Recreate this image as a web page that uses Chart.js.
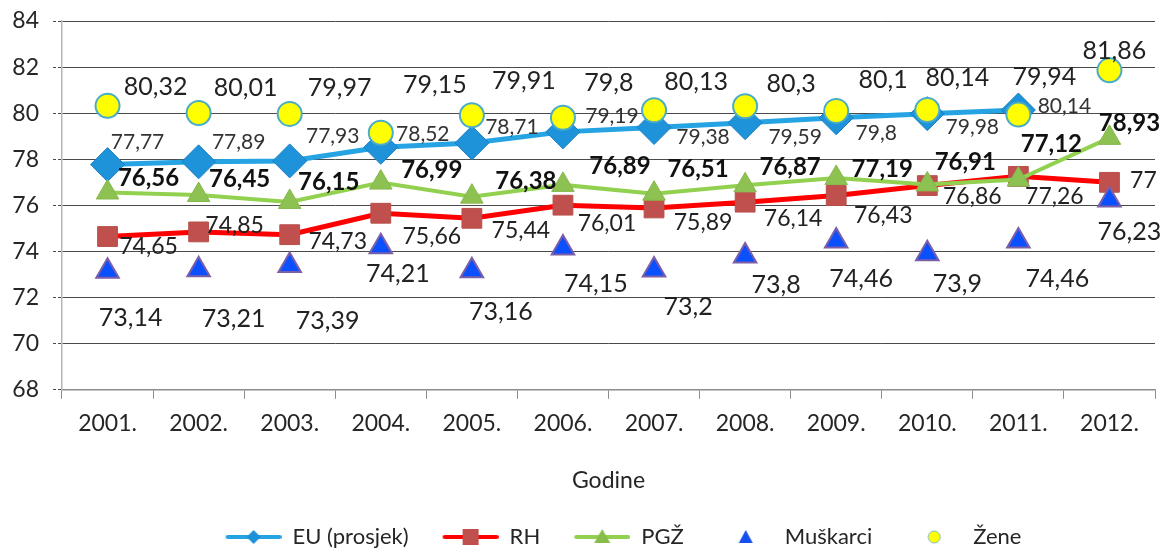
<!DOCTYPE html>
<html>
<head>
<meta charset="utf-8">
<script src="https://cdn.jsdelivr.net/npm/chart.js@4"></script>
<style>
  body { margin: 0; background: #fff; }
  #wrap { width: 1173px; height: 548px; }
</style>
</head>
<body>
<div id="wrap"><canvas id="c" width="1173" height="548"></canvas></div>
<script>
const years = ["2001.", "2002.", "2003.", "2004.", "2005.", "2006.", "2007.", "2008.", "2009.", "2010.", "2011.", "2012."];
const euValues = [77.77, 77.89, 77.93, 78.52, 78.71, 79.19, 79.38, 79.59, 79.8, 79.98, 80.14, null];
const rhValues = [74.65, 74.85, 74.73, 75.66, 75.44, 76.01, 75.89, 76.14, 76.43, 76.86, 77.26, 77];
const pgzValues = [76.56, 76.45, 76.15, 76.99, 76.38, 76.89, 76.51, 76.87, 77.19, 76.91, 77.12, 78.93];
const menValues = [73.14, 73.21, 73.39, 74.21, 73.16, 74.15, 73.2, 73.8, 74.46, 73.9, 74.46, 76.23];
const womenValues = [80.32, 80.01, 79.97, 79.15, 79.91, 79.8, 80.13, 80.3, 80.1, 80.14, 79.94, 81.86];
const yMin = 68, yMax = 84, yStep = 2;

// where each value label sits relative to its point (px)
const euLabelOffset = [[30,-22],[40,-20],[43,-25],[42,-13],[40,-16],[49,-16],[49,10],[50,15],[40,15],[45,14],[46,-4],null];
const rhLabelOffset = [[41,10],[36,-6],[48,7],[51,23],[49,12],[44,18],[49,15],[48,16],[47,20],[45,11],[36,20],[34,-2]];
const pgzLabelOffset = [[41,-14],[41,-16],[39,-20],[51,-12],[54,-15],[57,-19],[44,-24],[45,-18],[46,-9],[38,-22],[33,-35],[20,-15]];
const menLabelOffset = [[23,47],[35,49],[38,55],[17,27],[29,41],[33,36],[34,37],[31,29],[25,38],[30,30],[39,38],[20,32]];
const womenLabelOffset = [[48,-19],[47,-25],[50,-26],[54,-48],[52,-34],[46,-35],[42,-28],[46,-22],[47,-31],[30,-32],[26,-38],[5,-19]];

const FONT = "Lato, 'Noto Sans', sans-serif";

// legend pictures: blank lead-in on the left gives the gap between items
const ICON_W = 84;
const legendIcon = (lineColor, draw) => {
  const cv = document.createElement("canvas");
  cv.width = ICON_W;
  cv.height = 20;
  const ctx = cv.getContext("2d");
  if (lineColor) {
    ctx.strokeStyle = lineColor;
    ctx.lineWidth = 4;
    ctx.lineCap = "round";
    ctx.beginPath();
    ctx.moveTo(ICON_W - 54, 10);
    ctx.lineTo(ICON_W - 2, 10);
    ctx.stroke();
  }
  draw(ctx, ICON_W - 28);
  return cv;
};
const icons = [
  legendIcon("#25a3e3", (ctx, cx) => {
    ctx.fillStyle = "#1e90d8";
    ctx.beginPath();
    ctx.moveTo(cx, 3); ctx.lineTo(cx + 7, 10); ctx.lineTo(cx, 17); ctx.lineTo(cx - 7, 10);
    ctx.closePath(); ctx.fill();
  }),
  legendIcon("#ff0000", (ctx, cx) => {
    ctx.fillStyle = "#c0504d";
    ctx.fillRect(cx - 8, 2, 16, 16);
  }),
  legendIcon("#92d050", (ctx, cx) => {
    ctx.fillStyle = "#86bd4a";
    ctx.beginPath();
    ctx.moveTo(cx, 2); ctx.lineTo(cx + 8, 16); ctx.lineTo(cx - 8, 16);
    ctx.closePath(); ctx.fill();
  }),
  legendIcon(null, (ctx, cx) => {
    ctx.fillStyle = "#1450f0";
    ctx.beginPath();
    ctx.moveTo(cx, 3); ctx.lineTo(cx + 7, 16); ctx.lineTo(cx - 7, 16);
    ctx.closePath(); ctx.fill();
  }),
  legendIcon(null, (ctx, cx) => {
    ctx.fillStyle = "#ffff00";
    ctx.strokeStyle = "#7cb8c8";
    ctx.lineWidth = 1;
    ctx.beginPath();
    ctx.arc(cx, 10, 6, 0, Math.PI * 2);
    ctx.fill(); ctx.stroke();
  }),
];

const labelPlugin = {
  id: "valueLabels",
  afterDatasetsDraw: (chart) => {
    const ctx = chart.ctx;
    ctx.save();
    ctx.textAlign = "center";
    ctx.textBaseline = "middle";
    chart.data.datasets.forEach((ds, i) => {
      const meta = chart.getDatasetMeta(i);
      ctx.font = ds.labelFont;
      ctx.fillStyle = ds.labelColor;
      meta.data.forEach((pt, j) => {
        const v = ds.data[j];
        const off = ds.labelOffset[j];
        if (v == null || !off) return;
        ctx.fillText(String(v).replace(".", ","), pt.x + off[0], pt.y + off[1]);
      });
    });
    ctx.restore();
  },
};

// the legend in the original sits a little right of centre
const legendShift = {
  id: "legendShift",
  afterLayout: (chart) => {
    chart.legend.left += 30;
    chart.legend.right += 30;
  },
};

Chart.defaults.font.family = FONT;
Chart.defaults.color = "#262626";

new Chart(document.getElementById("c"), {
  type: "line",
  data: {
    labels: years,
    datasets: [
      {
        label: "EU (prosjek)",
        data: euValues,
        borderColor: "#25a3e3",
        borderWidth: 5,
        pointStyle: "rectRot",
        pointRadius: 17,
        pointHoverRadius: 17,
        pointBackgroundColor: "#1e93da",
        pointBorderColor: "#1c7fc4",
        pointBorderWidth: 1,
        order: 4,
        labelOffset: euLabelOffset,
        labelFont: "21px " + FONT,
        labelColor: "#333",
      },
      {
        label: "RH",
        data: rhValues,
        borderColor: "#ff0000",
        borderWidth: 5,
        pointStyle: "rect",
        pointRadius: 14,
        pointHoverRadius: 14,
        pointBackgroundColor: "#c0504d",
        pointBorderColor: "#b8504c",
        pointBorderWidth: 1,
        order: 3,
        labelOffset: rhLabelOffset,
        labelFont: "23px " + FONT,
        labelColor: "#222",
      },
      {
        label: "PGŽ",
        data: pgzValues,
        borderColor: "#92d050",
        borderWidth: 4,
        pointStyle: "triangle",
        pointRadius: 13,
        pointHoverRadius: 13,
        pointBackgroundColor: "#8dc152",
        pointBorderColor: "#86b84c",
        pointBorderWidth: 1,
        order: 2,
        labelOffset: pgzLabelOffset,
        labelFont: "bold 24px " + FONT,
        labelColor: "#111",
      },
      {
        label: "Muškarci",
        data: menValues,
        showLine: false,
        pointStyle: "triangle",
        pointRadius: 13,
        pointHoverRadius: 13,
        pointBackgroundColor: "#0a50ff",
        pointBorderColor: "#7c5fa6",
        pointBorderWidth: 2,
        order: 1,
        labelOffset: menLabelOffset,
        labelFont: "25px " + FONT,
        labelColor: "#222",
      },
      {
        label: "Žene",
        data: womenValues,
        showLine: false,
        pointStyle: "circle",
        pointRadius: 12,
        pointHoverRadius: 12,
        pointBackgroundColor: "#ffff00",
        pointBorderColor: "#4bacc6",
        pointBorderWidth: 2,
        order: 0,
        labelOffset: womenLabelOffset,
        labelFont: "25px " + FONT,
        labelColor: "#222",
      },
    ],
  },
  options: {
    responsive: false,
    animation: false,
    elements: { line: { tension: 0 } },
    layout: { padding: { top: 21, right: 14, left: 0, bottom: -10 } },
    scales: {
      x: {
        offset: true,
        grid: {
          drawOnChartArea: false,
          drawTicks: true,
          tickLength: 9,
          color: "#8c8c8c",
          offset: true,
        },
        border: { color: "#8c8c8c", width: 1.5 },
        ticks: { font: { size: 23 }, padding: 11, color: "#262626" },
        title: {
          display: true,
          text: "Godine",
          font: { size: 23 },
          color: "#262626",
          padding: { top: 18, bottom: 26 },
        },
      },
      y: {
        min: yMin,
        max: yMax,
        ticks: { stepSize: yStep, font: { size: 23 }, padding: 14, color: "#262626" },
        grid: {
          color: (c) => (c.tick && c.tick.value === yMin ? "rgba(0,0,0,0)" : "#4a4a4a"),
          tickColor: "#4a4a4a",
          borderDash: [3, 2],
          tickBorderDash: [3, 2],
          tickLength: 9,
          lineWidth: 1,
        },
        border: { color: "#b5b5b5", width: 1.5 },
        afterFit: (scale) => {
          scale.width = 62;
          scale.paddingTop = 0;
          scale.paddingBottom = 0;
        },
      },
    },
    plugins: {
      tooltip: { enabled: false },
      legend: {
        position: "bottom",
        labels: {
          font: { size: 22 },
          color: "#262626",
          usePointStyle: true,
          pointStyleWidth: ICON_W,
          padding: 6,
          generateLabels: (chart) => {
            const items = Chart.defaults.plugins.legend.labels.generateLabels(chart);
            items.forEach((it) => {
              it.pointStyle = icons[it.datasetIndex];
            });
            return items;
          },
          sort: (a, b) => a.datasetIndex - b.datasetIndex,
        },
      },
    },
  },
  plugins: [labelPlugin, legendShift],
});
</script>
</body>
</html>
